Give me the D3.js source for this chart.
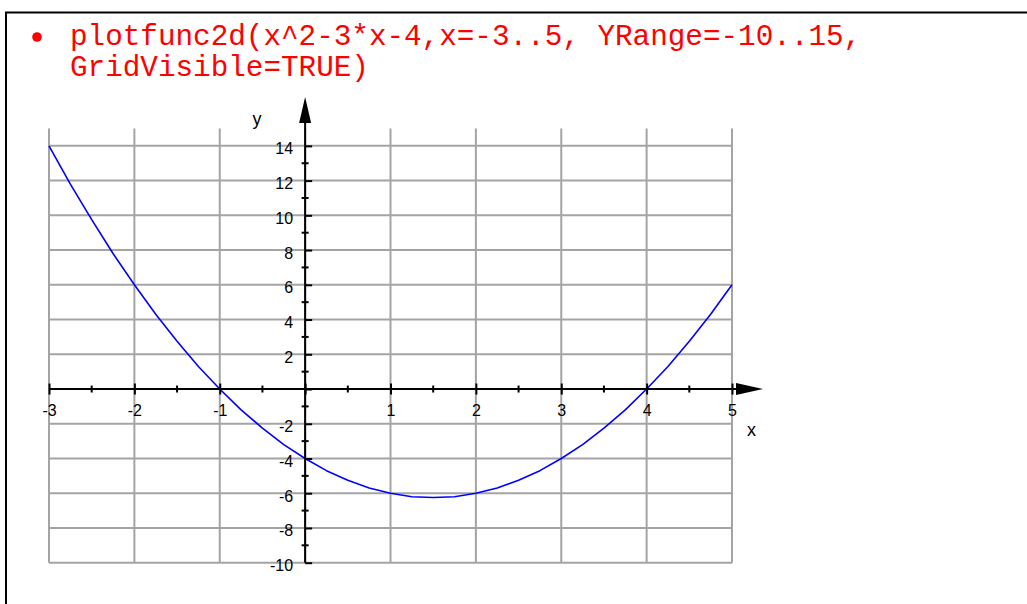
<!DOCTYPE html>
<html>
<head>
<meta charset="utf-8">
<script src="https://cdn.jsdelivr.net/npm/d3@7"></script>
<style>
  html, body { margin: 0; padding: 0; background: #fff; }
  svg { display: block; }
</style>
</head>
<body>
<svg id="chart" width="1027" height="604"></svg>
<script>
// Command text shown above the plot
const titleLines = ["plotfunc2d(x^2-3*x-4,x=-3..5, YRange=-10..15,", "GridVisible=TRUE)"];

// Curve samples (x, y) of the plotted parabola
const curveX = [-3, -2.75, -2.5, -2.25, -2, -1.75, -1.5, -1.25, -1, -0.75, -0.5, -0.25,
                0, 0.25, 0.5, 0.75, 1, 1.25, 1.5, 1.75, 2, 2.25, 2.5, 2.75,
                3, 3.25, 3.5, 3.75, 4, 4.25, 4.5, 4.75, 5];
const curveY = [14, 11.8, 9.75, 7.8, 6, 4.3, 2.75, 1.3, 0, -1.2, -2.25, -3.2,
                -4, -4.7, -5.25, -5.7, -6, -6.2, -6.25, -6.2, -6, -5.7, -5.25, -4.7,
                -4, -3.2, -2.25, -1.2, 0, 1.3, 2.75, 4.3, 6];

// Axis ranges and tick values
const xDomain = [-3, 5];
const yDomain = [-10, 15];
const xMajorTicks = [-3, -2, -1, 0, 1, 2, 3, 4, 5];
const xMinorTicks = [-2.5, -1.5, -0.5, 0.5, 1.5, 2.5, 3.5, 4.5];
const xTickLabels = ["-3", "-2", "-1", "", "1", "2", "3", "4", "5"];
const yMajorTicks = [-10, -8, -6, -4, -2, 0, 2, 4, 6, 8, 10, 12, 14];
const yMinorTicks = [-9, -7, -5, -3, -1, 1, 3, 5, 7, 9, 11, 13];
const yTickLabels = ["-10", "-8", "-6", "-4", "-2", "", "2", "4", "6", "8", "10", "12", "14"];

const svg = d3.select("#chart");

// Outer frame (left and top edges visible)
svg.append("path")
  .attr("d", "M6,604 L6,12.5 L1027,12.5")
  .attr("fill", "none")
  .attr("stroke", "#000")
  .attr("stroke-width", 2);

// Title: bullet plus two lines of monospace text
svg.append("circle").attr("cx", 37).attr("cy", 37).attr("r", 4.8).attr("fill", "#ff0000");
svg.append("g").selectAll("text").data(titleLines).join("text")
  .attr("x", 70)
  .attr("y", (d, i) => 45 + i * 31)
  .style("font-family", "'Liberation Mono', 'Courier New', monospace")
  .style("font-size", "29.3px")
  .attr("fill", "#ff0000")
  .attr("xml:space", "preserve")
  .text(d => d);

const x = d3.scaleLinear().domain(xDomain).range([49, 732]);
const y = d3.scaleLinear().domain(yDomain).range([562.7, 128.5]);

// Grid
const grid = svg.append("g").attr("stroke", "#a4a4a4").attr("stroke-width", 2);
grid.selectAll("line.v").data(xMajorTicks).join("line")
  .attr("class", "v")
  .attr("x1", d => x(d)).attr("x2", d => x(d))
  .attr("y1", y(yDomain[0])).attr("y2", y(yDomain[1]));
grid.selectAll("line.h").data(yMajorTicks).join("line")
  .attr("class", "h")
  .attr("x1", x(xDomain[0])).attr("x2", x(xDomain[1]))
  .attr("y1", d => y(d)).attr("y2", d => y(d));

// Curve
const pts = curveX.map((v, i) => [v, curveY[i]]);
svg.append("path")
  .datum(pts)
  .attr("fill", "none")
  .attr("stroke", "#0000ff")
  .attr("stroke-width", 1.6)
  .attr("stroke-linejoin", "round")
  .attr("d", d3.line().x(d => x(d[0])).y(d => y(d[1])));

const font = "'Liberation Sans', Arial, sans-serif";

// X axis (through y = 0) with ticks on both sides
const x0 = x(0), y0 = y(0);
const xAxis = svg.append("g").attr("transform", `translate(0,${y0})`)
  .call(d3.axisBottom(x).tickValues(xMajorTicks).tickSize(5.5).tickSizeOuter(0)
    .tickFormat((d, i) => xTickLabels[i]));
xAxis.select(".domain").remove();
xAxis.selectAll(".tick line").attr("y1", -5.5).attr("stroke", "#000").attr("stroke-width", 2);
xAxis.selectAll(".tick text").attr("y", 27).attr("dy", null)
  .style("font-family", font).style("font-size", "16px").attr("fill", "#000");
xAxis.append("g").selectAll("line").data(xMinorTicks).join("line")
  .attr("x1", d => x(d)).attr("x2", d => x(d))
  .attr("y1", -3.5).attr("y2", 3.5)
  .attr("stroke", "#000").attr("stroke-width", 2);
xAxis.append("line")
  .attr("x1", x(xDomain[0])).attr("x2", 740)
  .attr("stroke", "#000").attr("stroke-width", 2);
xAxis.append("path")
  .attr("d", "M736,-6 L763,0 L736,6 Z")
  .attr("fill", "#000");

// Y axis (through x = 0) with ticks on both sides
const yAxis = svg.append("g").attr("transform", `translate(${x0},0)`)
  .call(d3.axisLeft(y).tickValues(yMajorTicks).tickSize(7).tickSizeOuter(0)
    .tickFormat((d, i) => yTickLabels[i]));
yAxis.select(".domain").remove();
yAxis.selectAll(".tick line").attr("x2", 7).attr("stroke", "#000").attr("stroke-width", 2);
yAxis.selectAll(".tick text").attr("x", -12).attr("dy", 8)
  .style("font-family", font).style("font-size", "16px").attr("fill", "#000");
yAxis.append("g").selectAll("line").data(yMinorTicks).join("line")
  .attr("y1", d => y(d)).attr("y2", d => y(d))
  .attr("x1", -3.5).attr("x2", 3.5)
  .attr("stroke", "#000").attr("stroke-width", 2);
yAxis.append("line")
  .attr("y1", y(yDomain[0])).attr("y2", 118)
  .attr("stroke", "#000").attr("stroke-width", 2);
yAxis.append("path")
  .attr("d", "M-6,123 L0,97 L6,123 Z")
  .attr("fill", "#000");

// Axis names
svg.append("text").attr("x", 751.5).attr("y", 436)
  .attr("text-anchor", "middle")
  .style("font-family", font).style("font-size", "18px").text("x");
svg.append("text").attr("x", 257).attr("y", 125)
  .attr("text-anchor", "middle")
  .style("font-family", font).style("font-size", "18px").text("y");
</script>
</body>
</html>
